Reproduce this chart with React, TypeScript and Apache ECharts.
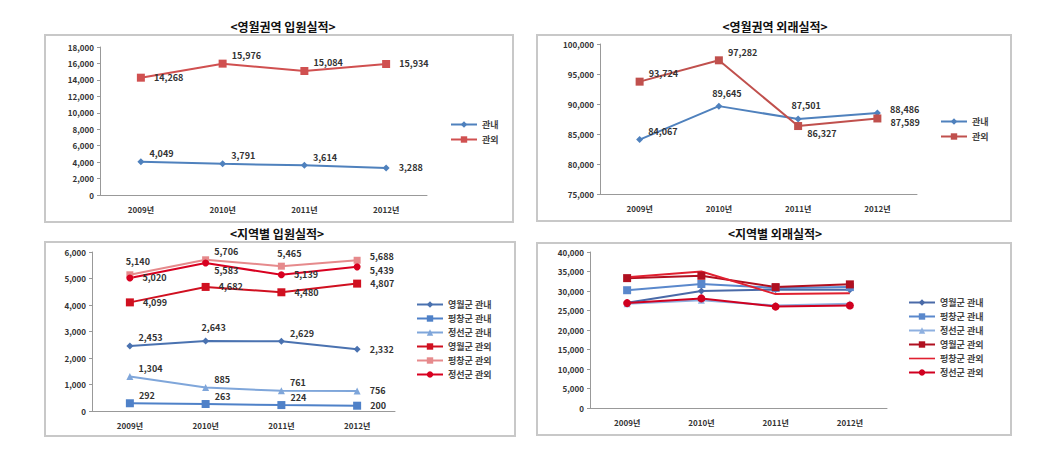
import React, { useEffect, useRef } from "react";
import * as echarts from "echarts";

const years = ["2009년", "2010년", "2011년", "2012년"];

// Panel 1: 영월권역 입원실적
const inpatientIn = [4049, 3791, 3614, 3288];
const inpatientOut = [14268, 15976, 15084, 15934];

// Panel 2: 영월권역 외래실적
const outpatientIn = [84067, 89645, 87501, 88486];
const outpatientOut = [93724, 97282, 86327, 87589];

// Panel 3: 지역별 입원실적
const regionNames = ["영월군 관내", "평창군 관내", "정선군 관내", "영월군 관외", "평창군 관외", "정선군 관외"];
const regInYeongwol = [2453, 2643, 2629, 2332];
const regInPyeongchang = [292, 263, 224, 200];
const regInJeongseon = [1304, 885, 761, 756];
const regOutYeongwol = [4099, 4682, 4480, 4807];
const regOutPyeongchang = [5140, 5706, 5465, 5688];
const regOutJeongseon = [5020, 5583, 5139, 5439];

// Panel 4: 지역별 외래실적
const ambInYeongwol = [27000, 30000, 30400, 30300];
const ambInPyeongchang = [30200, 31800, 30800, 31000];
const ambInJeongseon = [26700, 27600, 26300, 26700];
const ambOutYeongwol = [33300, 33900, 31000, 31700];
const ambOutPyeongchang = [33500, 35000, 29200, 29400];
const ambOutJeongseon = [26900, 28100, 26000, 26300];

const FONT = "'Noto Sans CJK KR', 'Noto Sans', sans-serif";
const fmt = (v: number) => v.toLocaleString("en-US");

// label placement codes
const placeMap: Record<string, any> = {
  t: { position: "right", offset: [0, -8] },
  b: { position: "right", offset: [0, 7] },
  r: { position: "right", offset: [4, 0] },
  ru: { position: "right", offset: [4, -4] },
  rd: { position: "right", offset: [4, 4] },
  u: { position: "top", offset: [8, 0] },
  d: { position: "bottom", offset: [8, 0] },
};

function labeled(values: number[], places: string[]) {
  return values.map((v, i) => ({
    value: v,
    label: { show: true, ...placeMap[places[i]] },
  }));
}

export default function App() {
  const ref = useRef<HTMLDivElement>(null);
  useEffect(() => {
    if (!ref.current) return;
    const chart = echarts.init(ref.current, undefined, { renderer: "svg" });

    const labelStyle = { fontSize: 9, fontWeight: "bold", color: "#333", fontFamily: FONT, formatter: (p: any) => fmt(p.value) };
    const axisLabel = { fontSize: 8, fontWeight: "bold", color: "#333", fontFamily: FONT };
    const yAxisBase = (gi: number, min: number, max: number, interval: number) => ({
      type: "value",
      gridIndex: gi,
      min,
      max,
      interval,
      splitLine: { show: false },
      axisLine: { show: true, lineStyle: { color: "#999" } },
      axisTick: { show: true, length: 3, lineStyle: { color: "#999" } },
      axisLabel: { ...axisLabel, formatter: (v: number) => fmt(v), margin: 6 },
    });
    const xAxisBase = (gi: number) => ({
      type: "category",
      gridIndex: gi,
      data: years,
      boundaryGap: true,
      axisLine: { lineStyle: { color: "#999" } },
      axisTick: { show: false },
      axisLabel: { ...axisLabel, margin: 10 },
    });
    const line = (name: string, gi: number, data: any, color: string, symbol: string, size = 7, extra: any = {}) => ({
      type: "line",
      name,
      xAxisIndex: gi,
      yAxisIndex: gi,
      data,
      symbol,
      symbolSize: size,
      showSymbol: symbol !== "none",
      lineStyle: { color, width: 2 },
      itemStyle: { color },
      label: { ...labelStyle },
      ...extra,
    });

    const blueA = "#4A72B0";
    const blueB = "#4F81C8";
    const blueC = "#7FA6DA";
    const redA = "#D01020";
    const redB = "#E68A8C";
    const redC = "#D80020";

    const legendText = { fontSize: 9, fontWeight: "bold", color: "#444", fontFamily: FONT };
    const plainLineIcon = "path://M0,3.2L26,3.2L26,4.8L0,4.8Z";

    chart.setOption({
      animation: false,
      backgroundColor: "#ffffff",
      title: [
        { text: "<영월권역 입원실적>", left: 278, top: 15, textAlign: "center" },
        { text: "<영월권역 외래실적>", left: 770, top: 15, textAlign: "center" },
        { text: "<지역별 입원실적>", left: 272, top: 222, textAlign: "center" },
        { text: "<지역별 외래실적>", left: 770, top: 222, textAlign: "center" },
      ].map((t) => ({ ...t, textStyle: { fontSize: 12, fontWeight: "bold", color: "#111", fontFamily: FONT } })),
      graphic: [
        { type: "rect", shape: { x: 45, y: 35, width: 468, height: 187 }, style: { fill: "#fff", stroke: "#c8c8c8", lineWidth: 2 }, z: -10 },
        { type: "rect", shape: { x: 537, y: 35, width: 474, height: 186 }, style: { fill: "#fff", stroke: "#c8c8c8", lineWidth: 2 }, z: -10 },
        { type: "rect", shape: { x: 45, y: 242, width: 470, height: 194 }, style: { fill: "#fff", stroke: "#c8c8c8", lineWidth: 2 }, z: -10 },
        { type: "rect", shape: { x: 537, y: 243, width: 474, height: 192 }, style: { fill: "#fff", stroke: "#c8c8c8", lineWidth: 2 }, z: -10 },
      ],
      legend: [
        {
          data: ["관내", "관외"],
          left: 445, top: 115, orient: "vertical", itemGap: 6, itemWidth: 26, itemHeight: 8,
          textStyle: legendText,
          selectedMode: false,
        },
        {
          data: ["관내 ", "관외 "],
          left: 935, top: 112, orient: "vertical", itemGap: 6, itemWidth: 26, itemHeight: 8,
          textStyle: legendText,
          selectedMode: false,
        },
        {
          data: regionNames,
          left: 411, top: 295, orient: "vertical", itemGap: 5, itemWidth: 26, itemHeight: 8,
          textStyle: legendText,
          selectedMode: false,
        },
        {
          data: regionNames.map((n, i) =>
            i === 4 ? { name: n + " ", icon: plainLineIcon, itemStyle: { color: "#E02030" } } : { name: n + " " }
          ),
          left: 903, top: 293, orient: "vertical", itemGap: 5, itemWidth: 26, itemHeight: 8,
          textStyle: legendText,
          selectedMode: false,
        },
      ],
      grid: [
        { left: 100, top: 47, width: 327, height: 148 },
        { left: 600, top: 44, width: 317, height: 150 },
        { left: 92, top: 252, width: 303, height: 159 },
        { left: 590, top: 252, width: 297, height: 156 },
      ],
      xAxis: [xAxisBase(0), xAxisBase(1), xAxisBase(2), xAxisBase(3)],
      yAxis: [
        yAxisBase(0, 0, 18000, 2000),
        yAxisBase(1, 75000, 100000, 5000),
        yAxisBase(2, 0, 6000, 1000),
        yAxisBase(3, 0, 40000, 5000),
      ],
      series: [
        line("관내", 0, labeled(inpatientIn, ["t", "t", "t", "r"]), "#4F81BD", "diamond", 7),
        line("관외", 0, labeled(inpatientOut, ["r", "t", "t", "r"]), "#D05050", "rect", 8),

        line("관내 ", 1, labeled(outpatientIn, ["t", "u", "u", "ru"]), "#4F81BD", "diamond", 7),
        line("관외 ", 1, labeled(outpatientOut, ["t", "t", "b", "rd"]), "#C0504D", "rect", 8),

        line(regionNames[0], 2, labeled(regInYeongwol, ["t", "u", "t", "r"]), blueA, "diamond", 7),
        line(regionNames[1], 2, labeled(regInPyeongchang, ["t", "t", "t", "r"]), blueB, "rect", 8),
        line(regionNames[2], 2, labeled(regInJeongseon, ["t", "t", "t", "r"]), blueC, "triangle", 7),
        line(regionNames[3], 2, labeled(regOutYeongwol, ["r", "r", "r", "r"]), redA, "rect", 8),
        line(regionNames[4], 2, labeled(regOutPyeongchang, ["u", "t", "u", "ru"]), redB, "rect", 7),
        line(regionNames[5], 2, labeled(regOutJeongseon, ["r", "b", "r", "rd"]), redC, "circle", 7),

        line(regionNames[0] + " ", 3, ambInYeongwol, "#4A6AA8", "diamond", 7, { label: { show: false } }),
        line(regionNames[1] + " ", 3, ambInPyeongchang, "#5A88CC", "rect", 8, { label: { show: false } }),
        line(regionNames[2] + " ", 3, ambInJeongseon, "#8EB0E0", "triangle", 7, { label: { show: false } }),
        line(regionNames[3] + " ", 3, ambOutYeongwol, "#B01020", "rect", 8, { label: { show: false } }),
        line(regionNames[4] + " ", 3, ambOutPyeongchang, "#E02030", "none", 0, { label: { show: false } }),
        line(regionNames[5] + " ", 3, ambOutJeongseon, "#D00020", "circle", 8, { label: { show: false } }),
      ],
    });
    return () => chart.dispose();
  }, []);
  return <div ref={ref} style={{ position: "fixed", left: 0, top: 0, width: 1057, height: 465 }} />;
}
